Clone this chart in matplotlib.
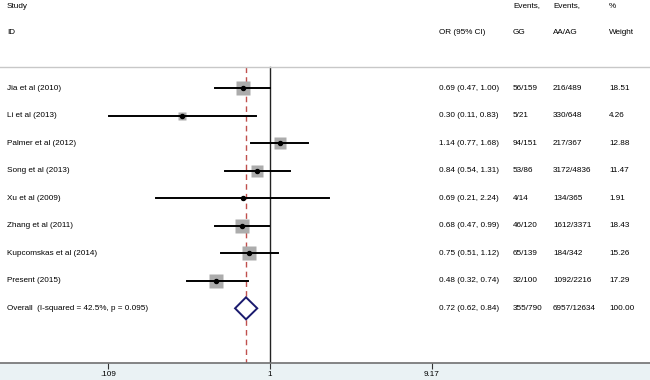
import sys

import numpy as np
import matplotlib
matplotlib.use("Agg")
import matplotlib.pyplot as plt
from matplotlib.patches import Polygon
from matplotlib.transforms import blended_transform_factory

studies = [
    "Jia et al (2010)",
    "Li et al (2013)",
    "Palmer et al (2012)",
    "Song et al (2013)",
    "Xu et al (2009)",
    "Zhang et al (2011)",
    "Kupcomskas et al (2014)",
    "Present (2015)",
]
odds = [0.69, 0.30, 1.14, 0.84, 0.69, 0.68, 0.75, 0.48]
ci_low = [0.47, 0.11, 0.77, 0.54, 0.21, 0.47, 0.51, 0.32]
ci_high = [1.00, 0.83, 1.68, 1.31, 2.24, 0.99, 1.12, 0.74]
events_gg = ["56/159", "5/21", "94/151", "53/86", "4/14", "46/120", "65/139", "32/100"]
events_aa = ["216/489", "330/648", "217/367", "3172/4836", "134/365", "1612/3371", "184/342", "1092/2216"]
weights = [18.51, 4.26, 12.88, 11.47, 1.91, 18.43, 15.26, 17.29]

overall_label = "Overall  (I-squared = 42.5%, p = 0.095)"
overall_or, overall_lo, overall_hi = 0.72, 0.62, 0.84
overall_gg, overall_aa, overall_w = "355/790", "6957/12634", "100.00"

tick_vals = [0.109, 1, 9.17]
tick_labels = [".109", "1", "9.17"]


def main() -> int:
    plt.rcParams["font.family"] = ["Liberation Sans", "DejaVu Sans"]
    fs = 5.9

    fig = plt.figure(figsize=(6.5, 3.8), dpi=100, facecolor="#eaf2f4")
    # axes spans whole width; bottom band below the axis line is figure bg
    ax = fig.add_axes([0, 17.5 / 380, 1, 362.5 / 380])
    ax.set_facecolor("white")

    ax.set_xscale("log")
    # 1 sits at x=270 px, 73.1 px per ln-unit
    ax.set_xlim(np.exp(-270 / 73.1), np.exp(380 / 73.1))
    row_h = 27.54
    ax.set_ylim((362.5 - 88) / row_h, -88 / row_h)

    n = len(studies)
    y = np.arange(n)
    y_over = n
    line_top = (67 - 88) / row_h

    # reference lines
    ax.plot([1, 1], [line_top, 20], color="#222222", lw=1.0, zorder=1)
    ax.plot([overall_or, overall_or], [line_top, 20], color="#c0504d",
            lw=1.0, ls=(0, (4, 3)), zorder=1)
    ax.axhline(line_top, color="#c8c8c8", lw=1.0, zorder=1)

    # study estimates: box first, CI line and point estimate on top
    sizes = 10.6 * np.sqrt(np.array(weights) / 18.51)
    for i in range(n):
        ax.plot(odds[i], y[i], marker="s", ms=sizes[i], color="#acacac",
                mec="none", zorder=2)
        ax.plot([ci_low[i], ci_high[i]], [y[i], y[i]], color="black", lw=1.4, zorder=3)
        ax.plot(odds[i], y[i], marker="o", ms=2.9, color="black", zorder=5)

    # overall diamond
    h = 0.4
    diamond = Polygon(
        [(overall_lo, y_over), (overall_or, y_over - h),
         (overall_hi, y_over), (overall_or, y_over + h)],
        closed=True, facecolor="white", edgecolor="#1a1a6e", lw=1.4, zorder=3,
    )
    ax.add_patch(diamond)

    # axis styling
    for side in ["top", "left", "right"]:
        ax.spines[side].set_visible(False)
    ax.spines["bottom"].set_color("#707070")
    ax.spines["bottom"].set_linewidth(1.2)
    ax.set_yticks([])
    ax.set_xticks(tick_vals)
    ax.set_xticklabels(tick_labels)
    ax.xaxis.set_minor_locator(matplotlib.ticker.NullLocator())
    ax.tick_params(axis="x", direction="out", length=4, width=0.8,
                   color="#333333", labelsize=fs, pad=2)

    # text columns
    tr = blended_transform_factory(fig.transFigure, ax.transData)
    col_x = [7 / 650, 439 / 650, 513 / 650, 553 / 650, 609 / 650]
    hdr1 = (6 - 88) / row_h
    hdr2 = (33 - 88) / row_h
    kw = dict(transform=tr, fontsize=fs, va="center", ha="left", color="#000000")

    ax.text(col_x[0], hdr1, "Study", **kw)
    ax.text(col_x[0], hdr2, "ID", **kw)
    ax.text(col_x[1], hdr2, "OR (95% CI)", **kw)
    ax.text(col_x[2], hdr1, "Events,", **kw)
    ax.text(col_x[2], hdr2, "GG", **kw)
    ax.text(col_x[3], hdr1, "Events,", **kw)
    ax.text(col_x[3], hdr2, "AA/AG", **kw)
    ax.text(col_x[4], hdr1, "%", **kw)
    ax.text(col_x[4], hdr2, "Weight", **kw)

    for i in range(n):
        ax.text(col_x[0], y[i], studies[i], **kw)
        ax.text(col_x[1], y[i], f"{odds[i]:.2f} ({ci_low[i]:.2f}, {ci_high[i]:.2f})", **kw)
        ax.text(col_x[2], y[i], events_gg[i], **kw)
        ax.text(col_x[3], y[i], events_aa[i], **kw)
        ax.text(col_x[4], y[i], f"{weights[i]:.2f}", **kw)

    ax.text(col_x[0], y_over, overall_label, **kw)
    ax.text(col_x[1], y_over,
            f"{overall_or:.2f} ({overall_lo:.2f}, {overall_hi:.2f})", **kw)
    ax.text(col_x[2], y_over, overall_gg, **kw)
    ax.text(col_x[3], y_over, overall_aa, **kw)
    ax.text(col_x[4], y_over, overall_w, **kw)

    fig.savefig("out.png", dpi=100, facecolor=fig.get_facecolor())
    return 0


if __name__ == "__main__":
    sys.exit(main())
